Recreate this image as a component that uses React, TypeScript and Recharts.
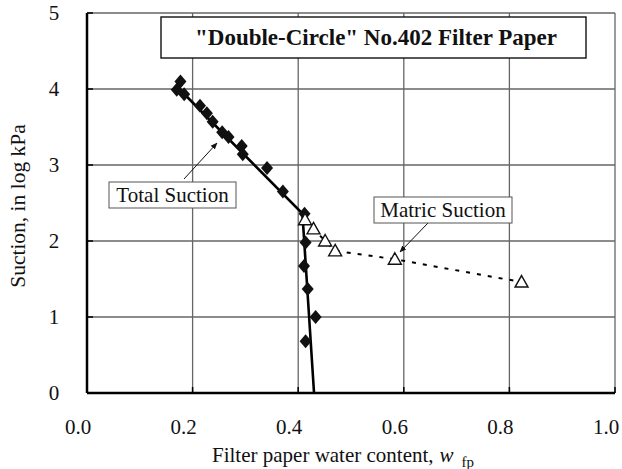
import { ScatterChart, Scatter, XAxis, YAxis, CartesianGrid } from 'recharts'

// Total suction (filled diamonds)
const totalW = [0.177, 0.170, 0.184, 0.214, 0.227, 0.238, 0.256, 0.268, 0.293, 0.295, 0.341, 0.371, 0.412, 0.414, 0.411, 0.418, 0.433, 0.414]
const totalS = [4.10, 3.99, 3.93, 3.78, 3.68, 3.57, 3.43, 3.37, 3.25, 3.14, 2.96, 2.65, 2.36, 1.98, 1.67, 1.37, 1.00, 0.68]

// Matric suction (open triangles)
const matricW = [0.413, 0.429, 0.451, 0.470, 0.583, 0.823]
const matricS = [2.28, 2.16, 2.00, 1.87, 1.76, 1.46]

// bilinear calibration line for total suction
const fitW = [0.172, 0.408, 0.430]
const fitS = [4.02, 2.36, 0]

const xTicks = [0, 0.2, 0.4, 0.6, 0.8, 1.0]
const yTicks = [0, 1, 2, 3, 4, 5]

const FONT = '"Liberation Serif", "Times New Roman", serif'

const totalData = totalW.map((w, i) => ({ w, s: totalS[i] }))
const matricData = matricW.map((w, i) => ({ w, s: matricS[i] }))
const fitData = fitW.map((w, i) => ({ w, s: fitS[i] }))

const XTick = (props: any) => {
  const { x, y, payload } = props
  return (
    <g>
      <line x1={x} x2={x} y1={y} y2={y - 6} stroke="#000" strokeWidth={1.5} />
      <text x={x - 9} y={y + 41} textAnchor="middle" fontSize={21} fontFamily={FONT} fill="#111">
        {payload.value.toFixed(1)}
      </text>
    </g>
  )
}

const YTick = (props: any) => {
  const { x, y, payload } = props
  return (
    <g>
      <line x1={x} x2={x + 6} y1={y} y2={y} stroke="#000" strokeWidth={1.5} />
      <text x={54} y={y + 7} textAnchor="middle" fontSize={21} fontFamily={FONT} fill="#111">
        {payload.value}
      </text>
    </g>
  )
}

const Diamond = (props: any) => {
  const { cx, cy } = props
  return <polygon points={`${cx},${cy - 7} ${cx + 6},${cy} ${cx},${cy + 7} ${cx - 6},${cy}`} fill="#111" />
}

const Triangle = (props: any) => {
  const { cx, cy } = props
  return (
    <polygon
      points={`${cx},${cy - 6.5} ${cx + 6.5},${cy + 5} ${cx - 6.5},${cy + 5}`}
      fill="#fff"
      stroke="#111"
      strokeWidth={1.4}
    />
  )
}

const NoDot = () => <g />

export default function App() {
  return (
    <div style={{ position: 'relative', width: 622, height: 469, background: '#fff' }}>
      <style>{'body{margin:0}'}</style>
      <ScatterChart width={622} height={469} margin={{ top: 13, right: 7, bottom: 36, left: 47 }}>
        <CartesianGrid stroke="#666" strokeWidth={1.3} />
        <XAxis
          type="number"
          dataKey="w"
          domain={[0, 1]}
          ticks={xTicks}
          interval={0}
          height={40}
          tickSize={0}
          tickMargin={0}
          tickLine={false}
          tick={<XTick />}
          axisLine={{ stroke: '#000', strokeWidth: 2.5 }}
          allowDataOverflow
        />
        <YAxis
          type="number"
          dataKey="s"
          domain={[0, 5]}
          ticks={yTicks}
          interval={0}
          width={40}
          tickSize={0}
          tickMargin={0}
          tickLine={false}
          tick={<YTick />}
          axisLine={{ stroke: '#000', strokeWidth: 2.5 }}
          allowDataOverflow
        />
        <Scatter data={fitData} line={{ stroke: '#000', strokeWidth: 2.6 }} shape={NoDot} isAnimationActive={false} />
        <Scatter
          data={matricData}
          line={{ stroke: '#000', strokeWidth: 2, strokeDasharray: '4 7' }}
          shape={NoDot}
          isAnimationActive={false}
        />
        <Scatter data={totalData} shape={Diamond} isAnimationActive={false} />
        <Scatter data={matricData} shape={Triangle} isAnimationActive={false} />
      </ScatterChart>

      <svg width={622} height={469} style={{ position: 'absolute', left: 0, top: 0, pointerEvents: 'none' }}>
        <defs>
          <marker id="arr" viewBox="0 0 10 10" refX="9" refY="5" markerWidth="7" markerHeight="7" orient="auto">
            <path d="M0,1 L10,5 L0,9 z" fill="#111" />
          </marker>
        </defs>

        {/* title box */}
        <rect x={161} y={17} width={425} height={41} fill="#fff" stroke="#111" strokeWidth={1.4} />
        <text x={376} y={45} textAnchor="middle" fontSize={23} fontWeight="bold" fontFamily={FONT} fill="#111">
          "Double-Circle" No.402 Filter Paper
        </text>

        {/* annotations */}
        <line x1={184} y1={179} x2={217} y2={143} stroke="#111" strokeWidth={1} markerEnd="url(#arr)" />
        <rect x={109} y={182} width={127} height={26} fill="#fff" stroke="#555" strokeWidth={1} />
        <text x={172.5} y={202} textAnchor="middle" fontSize={21} fontFamily={FONT} fill="#111">
          Total Suction
        </text>

        <line x1={428} y1={223} x2={400} y2={252} stroke="#111" strokeWidth={1} markerEnd="url(#arr)" />
        <rect x={374} y={197} width={138} height={26} fill="#fff" stroke="#555" strokeWidth={1} />
        <text x={443} y={217} textAnchor="middle" fontSize={21} fontFamily={FONT} fill="#111">
          Matric Suction
        </text>

        {/* axis titles */}
        <text transform="translate(25,206) rotate(-90)" textAnchor="middle" fontSize={21.5} fontFamily={FONT} fill="#111">
          Suction, in log kPa
        </text>
        <text x={212} y={462} fontSize={21} fontFamily={FONT} fill="#111">
          Filter paper water content,
          <tspan fontStyle="italic" dx={6}>w</tspan>
          <tspan fontSize={15} dx={8} dy={5}>fp</tspan>
        </text>
      </svg>
    </div>
  )
}
